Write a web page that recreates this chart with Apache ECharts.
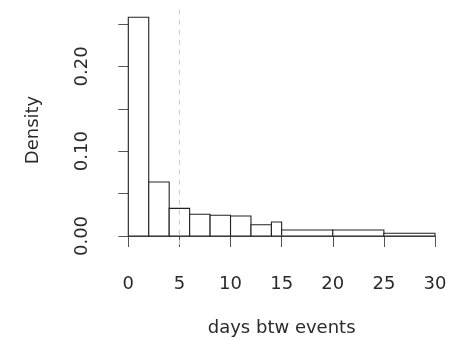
<!DOCTYPE html>
<html>
<head>
<meta charset="utf-8">
<script src="https://cdn.jsdelivr.net/npm/echarts@6/dist/echarts.min.js"></script>
<style>html,body{margin:0;padding:0;background:#fff}#c{width:458px;height:338px}</style>
</head>
<body>
<div id="c"></div>
<script>
// Histogram bins (days btw events) and densities
const binStart = [0, 2, 4, 6, 8, 10, 12, 14, 15, 20, 25];
const binEnd   = [2, 4, 6, 8, 10, 12, 14, 15, 20, 25, 30];
const density  = [0.258, 0.0637, 0.0326, 0.0256, 0.0244, 0.0236, 0.0133, 0.0165, 0.0071, 0.0071, 0.0032];
const xTicks = [0, 5, 10, 15, 20, 25, 30];
const yTicks = [0, 0.05, 0.10, 0.15, 0.20, 0.25];
const yLabelsShown = [0, 0.10, 0.20];
const refLineX = [5];
const xName = 'days btw events';
const yName = 'Density';

const FONT = 'DejaVu Sans';
const yMaxData = Math.max(...density);
const yLo = -0.04 * yMaxData, yHi = yMaxData * 1.04;

const chart = echarts.init(document.getElementById('c'));
const data = binStart.map((s, i) => [s, binEnd[i], density[i]]);

chart.setOption({
  animation: false,
  grid: { left: 128.3, right: 23, top: 24, bottom: 102, containLabel: false, outerBoundsMode: 'none' },
  xAxis: {
    type: 'value', min: xTicks[0], max: xTicks[xTicks.length - 1], interval: 5,
    offset: 9,
    name: xName, nameLocation: 'middle', nameGap: 74,
    nameTextStyle: { fontFamily: FONT, fontSize: 18, color: '#2a2a2a' },
    axisLine: { show: true, lineStyle: { color: '#555', width: 1 } },
    axisTick: { show: true, inside: false, length: 11, lineStyle: { color: '#555' } },
    axisLabel: { fontFamily: FONT, fontSize: 18, color: '#2a2a2a', margin: 30 },
    splitLine: { show: false }
  },
  yAxis: {
    type: 'value', min: yTicks[0], max: yTicks[yTicks.length - 1], interval: 0.05,
    offset: 12.3,
    name: yName, nameLocation: 'middle', nameGap: 74, nameRotate: 90,
    nameTextStyle: { fontFamily: FONT, fontSize: 18, color: '#2a2a2a' },
    axisLine: { show: true, lineStyle: { color: '#555', width: 1 } },
    axisTick: { show: true, length: 10, lineStyle: { color: '#555' } },
    axisLabel: {
      fontFamily: FONT, fontSize: 18, color: '#2a2a2a', rotate: 90, margin: 25,
      formatter: v => yLabelsShown.some(t => Math.abs(t - v) < 1e-9) ? v.toFixed(2) : ''
    },
    splitLine: { show: false }
  },
  series: [
    {
      type: 'custom', clip: false,
      data: data,
      renderItem: (params, api) => {
        const p0 = api.coord([api.value(0), 0]);
        const p1 = api.coord([api.value(1), api.value(2)]);
        return {
          type: 'rect',
          shape: { x: p0[0], y: p1[1], width: p1[0] - p0[0], height: p0[1] - p1[1] },
          style: { fill: '#fff', stroke: '#222', lineWidth: 1.1 }
        };
      }
    },
    {
      type: 'custom', clip: false,
      data: refLineX.map(v => [v]),
      z: 3,
      renderItem: (params, api) => {
        const a = api.coord([api.value(0), yLo]);
        const b = api.coord([api.value(0), yHi]);
        return {
          type: 'line',
          shape: { x1: a[0], y1: a[1], x2: b[0], y2: b[1] },
          style: { stroke: '#c8c8c8', lineWidth: 1, lineDash: [5, 5] }
        };
      }
    }
  ]
});
</script>
</body>
</html>
